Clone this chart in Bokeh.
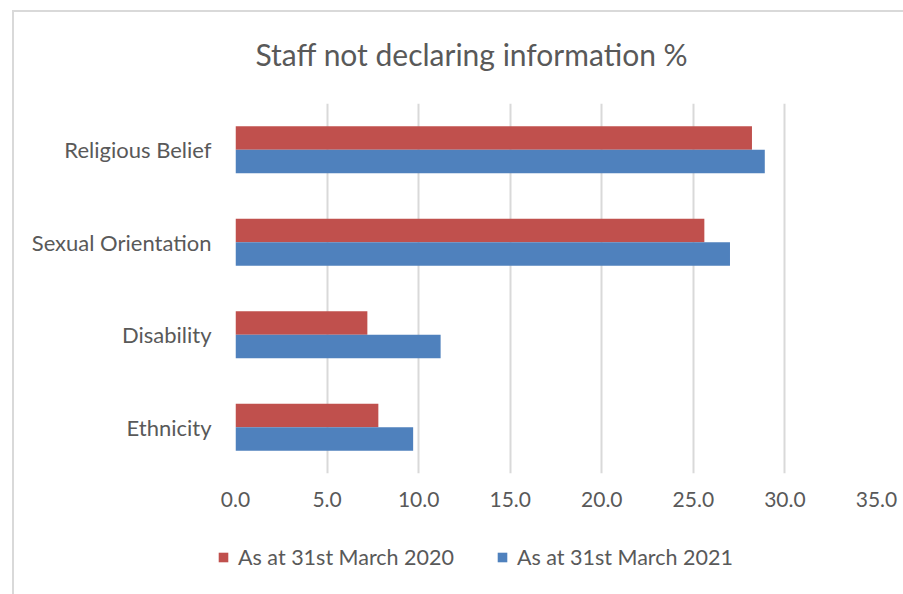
from bokeh.plotting import figure
from bokeh.models import (ColumnDataSource, FactorRange, Range1d, Legend, LegendItem,
                          SingleIntervalTicker, NumeralTickFormatter)
from bokeh.layouts import column
from bokeh.transform import dodge
from bokeh.embed import file_html
from bokeh.resources import INLINE

categories = ["Ethnicity", "Disability", "Sexual Orientation", "Religious Belief"]
values_2020 = [7.8, 7.2, 25.6, 28.2]
values_2021 = [9.7, 11.2, 27.0, 28.9]
series_names = ["As at 31st March 2020", "As at 31st March 2021"]
colors = ["#C0504D", "#4F81BD"]
title_text = "Staff not declaring information %"

FONT = "Lato"
GRAY = "#595959"

src = ColumnDataSource(dict(cat=categories, v20=values_2020, v21=values_2021))

p = figure(frame_width=641, frame_height=370, output_backend="svg", toolbar_location=None,
           y_range=FactorRange(factors=categories, range_padding=0),
           x_range=Range1d(0, 35), title=title_text,
           min_border_left=235, min_border_right=27, min_border_top=103, min_border_bottom=57)
p.styles = {
    "background-color": "white",
    "background-image": ("linear-gradient(to right, transparent 12px, #d9d9d9 12px, #d9d9d9 14px, transparent 14px),"
                         "linear-gradient(to bottom, transparent 10px, #d9d9d9 10px, #d9d9d9 12px, transparent 12px)"),
    "background-size": "100% calc(100% - 10px), calc(100% - 12px) 100%",
    "background-position": "0 10px, 12px 0",
    "background-repeat": "no-repeat",
}
p.outline_line_color = None
p.background_fill_color = "white"
p.border_fill_alpha = 0

p.title.text_font = FONT
p.title.text_font_size = "30px"
p.title.text_color = GRAY
p.title.text_font_style = "normal"
p.title.align = "left"
p.title.offset = 20
p.title.standoff = 64

r1 = p.hbar(y=dodge("cat", 0.127, range=p.y_range), right="v20", height=0.254, left=0,
            source=src, fill_color=colors[0], line_color=None)
r2 = p.hbar(y=dodge("cat", -0.127, range=p.y_range), right="v21", height=0.254, left=0,
            source=src, fill_color=colors[1], line_color=None)

p.xgrid.ticker = SingleIntervalTicker(interval=5)
p.xaxis.ticker = SingleIntervalTicker(interval=5)
p.xgrid.grid_line_color = "#d9d9d9"
p.xgrid.grid_line_width = 2
p.ygrid.grid_line_color = None
p.xaxis.formatter = NumeralTickFormatter(format="0.0")

for ax in (p.xaxis[0], p.yaxis[0]):
    ax.axis_line_color = None
    ax.major_tick_line_color = None
    ax.minor_tick_line_color = None
    ax.major_label_text_font = FONT
    ax.major_label_text_color = GRAY
p.xaxis.major_label_text_font_size = "21px"
p.yaxis.major_label_text_font_size = "22px"
p.xaxis.major_label_standoff = 12
p.yaxis.major_label_standoff = 18

# Legend strip below the chart (series renderers kept out of view; only the legend shows)
pl = figure(frame_width=903, frame_height=64, output_backend="svg", toolbar_location=None,
            x_range=Range1d(-2, -1), y_range=FactorRange(factors=categories),
            x_axis_type=None, y_axis_type=None,
            min_border_left=0, min_border_right=0, min_border_top=0, min_border_bottom=0)
pl.styles = {
    "background-color": "white",
    "background-image": "linear-gradient(to right, transparent 12px, #d9d9d9 12px, #d9d9d9 14px, transparent 14px)",
    "background-repeat": "no-repeat",
}
pl.outline_line_color = None
pl.background_fill_alpha = 0
pl.border_fill_alpha = 0
pl.xgrid.visible = False
pl.ygrid.visible = False

lr1 = pl.hbar(y="cat", right="v20", left=0, height=0.25, source=src,
              fill_color=colors[0], line_color=None)
lr2 = pl.hbar(y="cat", right="v21", left=0, height=0.25, source=src,
              fill_color=colors[1], line_color=None)

legend = Legend(items=[LegendItem(label=series_names[0], renderers=[lr1]),
                       LegendItem(label=series_names[1], renderers=[lr2])],
                orientation="horizontal", location=(217, 23), padding=0, margin=0,
                label_text_font=FONT, label_text_font_size="21.5px", label_text_color=GRAY,
                label_height=28, glyph_width=12, glyph_height=12, label_standoff=9, spacing=42,
                border_line_color=None, background_fill_alpha=0)
pl.add_layout(legend, "center")

layout = column(p, pl, spacing=0)
open("out.html", "w").write(file_html(layout, INLINE))
